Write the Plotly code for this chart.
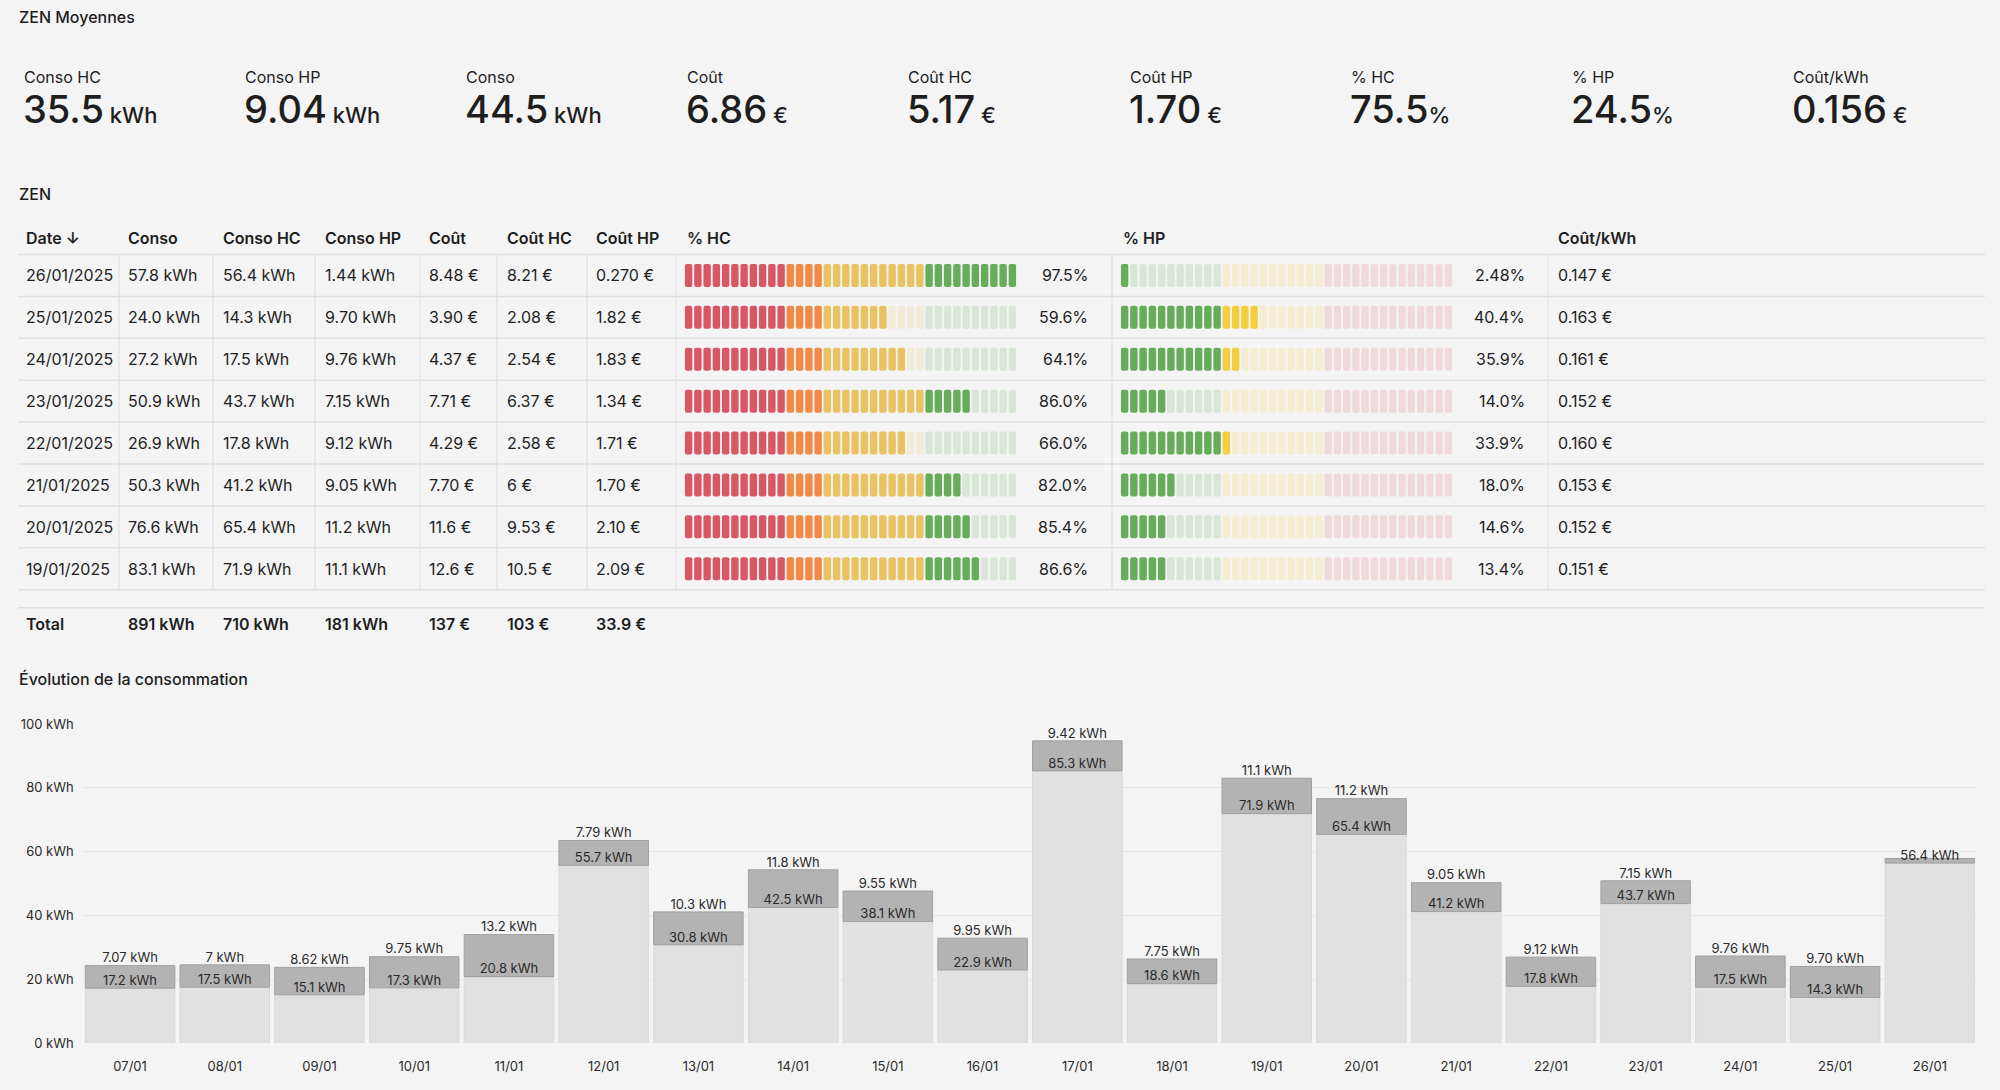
import math
import plotly.graph_objects as go

W, H = 2000, 1090
FONT = "Inter"
TXT = "#1e1e1e"
BG = "#f4f4f4"
LINE = "#e0e0e0"

# ---------------- data ----------------
card_labels = ["Conso HC", "Conso HP", "Conso", "Coût", "Coût HC", "Coût HP", "% HC", "% HP", "Coût/kWh"]
card_values = ["35.5", "9.04", "44.5", "6.86", "5.17", "1.70", "75.5", "24.5", "0.156"]
card_units = ["kWh", "kWh", "kWh", "€", "€", "€", "%", "%", "€"]

headers = ["Date ↓", "Conso", "Conso HC", "Conso HP", "Coût", "Coût HC", "Coût HP", "% HC", "% HP", "Coût/kWh"]
dates = ["26/01/2025", "25/01/2025", "24/01/2025", "23/01/2025", "22/01/2025", "21/01/2025", "20/01/2025", "19/01/2025"]
conso = ["57.8 kWh", "24.0 kWh", "27.2 kWh", "50.9 kWh", "26.9 kWh", "50.3 kWh", "76.6 kWh", "83.1 kWh"]
conso_hc = ["56.4 kWh", "14.3 kWh", "17.5 kWh", "43.7 kWh", "17.8 kWh", "41.2 kWh", "65.4 kWh", "71.9 kWh"]
conso_hp = ["1.44 kWh", "9.70 kWh", "9.76 kWh", "7.15 kWh", "9.12 kWh", "9.05 kWh", "11.2 kWh", "11.1 kWh"]
cout = ["8.48 €", "3.90 €", "4.37 €", "7.71 €", "4.29 €", "7.70 €", "11.6 €", "12.6 €"]
cout_hc = ["8.21 €", "2.08 €", "2.54 €", "6.37 €", "2.58 €", "6 €", "9.53 €", "10.5 €"]
cout_hp = ["0.270 €", "1.82 €", "1.83 €", "1.34 €", "1.71 €", "1.70 €", "2.10 €", "2.09 €"]
pct_hc = [97.5, 59.6, 64.1, 86.0, 66.0, 82.0, 85.4, 86.6]
pct_hp = [2.48, 40.4, 35.9, 14.0, 33.9, 18.0, 14.6, 13.4]
cout_kwh = ["0.147 €", "0.163 €", "0.161 €", "0.152 €", "0.160 €", "0.153 €", "0.152 €", "0.151 €"]
totals = ["Total", "891 kWh", "710 kWh", "181 kWh", "137 €", "103 €", "33.9 €"]

days = ["07/01", "08/01", "09/01", "10/01", "11/01", "12/01", "13/01", "14/01", "15/01", "16/01",
        "17/01", "18/01", "19/01", "20/01", "21/01", "22/01", "23/01", "24/01", "25/01", "26/01"]
hc_kwh = [17.2, 17.5, 15.1, 17.3, 20.8, 55.7, 30.8, 42.5, 38.1, 22.9,
          85.3, 18.6, 71.9, 65.4, 41.2, 17.8, 43.7, 17.5, 14.3, 56.4]
hp_kwh = [7.07, 7.0, 8.62, 9.75, 13.2, 7.79, 10.3, 11.8, 9.55, 9.95,
          9.42, 7.75, 11.1, 11.2, 9.05, 9.12, 7.15, 9.76, 9.70, 1.44]
hp_text = ["7.07", "7", "8.62", "9.75", "13.2", "7.79", "10.3", "11.8", "9.55", "9.95",
           "9.42", "7.75", "11.1", "11.2", "9.05", "9.12", "7.15", "9.76", "9.70", "1.44"]
y_ticks = [0, 20, 40, 60, 80, 100]

N_CELLS = 36


def px(x):
    return x / W


def py(y):
    return 1 - y / H


def fmt3(v):
    d = max(0, 2 - int(math.floor(math.log10(abs(v)))))
    return f"{v:.{d}f}"


fig = go.Figure()
ann = []
shapes = []


def text(x, y, s, size=16, weight=400, xanchor="left", color=TXT):
    ann.append(dict(x=px(x), y=py(y), xref="paper", yref="paper", text=s, showarrow=False,
                    xanchor=xanchor, yanchor="middle", align=xanchor,
                    font=dict(family=FONT, size=size, color=color, weight=weight)))


# ---------------- stat cards ----------------
text(17, 17, "ZEN Moyennes", size=16, weight=500)
card_x0, card_dx = 23, 221.1
for i, (lab, val, unit) in enumerate(zip(card_labels, card_values, card_units)):
    x = card_x0 + i * card_dx
    sep = "" if unit == "%" else " "
    text(x - 1, 77, lab, size=16)
    text(x - 2, 109, f"{val}<span style='font-size:22px'>{sep}{unit}</span>", size=38, weight=500)

# ---------------- table ----------------
text(17, 194, "ZEN", size=16, weight=500)
col_x = [24, 126, 221, 323, 427, 505, 594, 685, 1121, 1556]
seps = [119, 213, 315, 420, 497, 587, 676, 1112, 1548]
tbl_l, tbl_r = 18, 1985
head_y = 238
row_top = 254.5
row_h = 41.9
n_rows = len(dates)
for h, x in zip(headers, col_x):
    text(x, head_y, h, size=16, weight=600)

# horizontal lines
for k in range(n_rows + 1):
    yy = row_top + k * row_h
    shapes.append(dict(type="line", xref="paper", yref="paper", x0=px(tbl_l), x1=px(tbl_r),
                       y0=py(yy), y1=py(yy), line=dict(color=LINE, width=1.5)))
yy = row_top + n_rows * row_h + 18
shapes.append(dict(type="line", xref="paper", yref="paper", x0=px(tbl_l), x1=px(tbl_r),
                   y0=py(yy), y1=py(yy), line=dict(color=LINE, width=1.5)))
for sx in seps:
    shapes.append(dict(type="line", xref="paper", yref="paper", x0=px(sx), x1=px(sx),
                       y0=py(row_top), y1=py(row_top + n_rows * row_h), line=dict(color=LINE, width=1.2)))

for r in range(n_rows):
    yc = row_top + (r + 0.5) * row_h
    cells = [dates[r], conso[r], conso_hc[r], conso_hp[r], cout[r], cout_hc[r], cout_hp[r]]
    for c, s in enumerate(cells):
        text(col_x[c], yc, s, size=16)
    text(1090, yc, fmt3(pct_hc[r]) + "%", size=16, xanchor="right")
    text(1527, yc, fmt3(pct_hp[r]) + "%", size=16, xanchor="right")
    text(col_x[9], yc, cout_kwh[r], size=16)

tot_y = 624
for c, s in enumerate(totals):
    text(col_x[c], tot_y, s, size=16, weight=600)


# ---------------- LCD gauges ----------------
def hc_color(v):
    if v < 30:
        return (214, 78, 94)
    if v < 40:
        return (239, 132, 60)
    if v < 70:
        return (232, 192, 90)
    return (94, 168, 82)


def hp_color(v):
    if v < 30:
        return (94, 168, 82)
    if v < 60:
        return (242, 204, 54)
    return (224, 96, 108)


def lit_ceil(p):
    return math.ceil(p / 100 * N_CELLS)


def lit_round(p):
    return round(p / 100 * N_CELLS)


seg_h = 0.55
for pcts, cfun, xa, litf in [(pct_hc, hc_color, "x2", lit_ceil), (pct_hp, hp_color, "x3", lit_round)]:
    for r, p in enumerate(pcts):
        lit = litf(p)
        xs, cols = [], []
        for i in range(N_CELLS):
            rgb = cfun(i * 100 / N_CELLS)
            a = 0.95 if i < lit else 0.18
            xs.append(i)
            cols.append(f"rgba({rgb[0]},{rgb[1]},{rgb[2]},{a})")
        fig.add_trace(go.Bar(x=xs, y=[seg_h] * N_CELLS, base=[r + 0.5 - seg_h / 2] * N_CELLS,
                             xaxis=xa, yaxis="y2", width=0.8,
                             marker=dict(color=cols, line=dict(width=0), cornerradius=2),
                             showlegend=False, hoverinfo="skip"))

# ---------------- consumption chart ----------------
fig.add_trace(go.Bar(x=days, y=hc_kwh, name="HC", marker=dict(color="#e1e1e1", line=dict(color="#d9d9d9", width=1)),
                     showlegend=False, hoverinfo="skip"))
fig.add_trace(go.Bar(x=days, y=hp_kwh, base=hc_kwh, name="HP",
                     marker=dict(color="#b3b3b3", line=dict(color="#a0a0a0", width=1)),
                     showlegend=False, hoverinfo="skip"))
fig.add_trace(go.Scatter(x=days, y=hc_kwh, mode="text", text=[f"{fmt3(v)} kWh" for v in hc_kwh],
                         textposition="top center", textfont=dict(family=FONT, size=13, color="#2a2a2a"),
                         showlegend=False, hoverinfo="skip", cliponaxis=False))
tops = [a + b for a, b in zip(hc_kwh, hp_kwh)]
fig.add_trace(go.Scatter(x=days, y=tops, mode="text",
                         text=[f"{t} kWh" if v >= 3 else "" for t, v in zip(hp_text, hp_kwh)],
                         textposition="top center", textfont=dict(family=FONT, size=13, color="#2a2a2a"),
                         showlegend=False, hoverinfo="skip", cliponaxis=False))

text(17, 679, "Évolution de la consommation", size=16, weight=500)

fig.update_layout(
    width=W, height=H, margin=dict(l=0, r=0, t=0, b=0),
    paper_bgcolor=BG, plot_bgcolor="rgba(0,0,0,0)",
    barmode="overlay", bargap=0.055,
    font=dict(family=FONT, color=TXT),
    annotations=ann, shapes=shapes,
    xaxis=dict(domain=[px(82.7), px(1977.2)], type="category", range=[-0.5, len(days) - 0.5],
               showgrid=False, zeroline=False, automargin=False,
               showline=False, ticks="", tickfont=dict(family=FONT, size=13, color="#2a2a2a"),
               ticklabelstandoff=14, fixedrange=True),
    yaxis=dict(domain=[py(1043), py(724)], range=[0, 100], tickvals=y_ticks, automargin=False,
               ticktext=[f"{v} kWh" for v in y_ticks], showgrid=True, gridcolor="#e6e6e6",
               gridwidth=1, zeroline=False, showline=False, ticks="",
               tickfont=dict(family=FONT, size=13, color="#2a2a2a"), ticklabelstandoff=8),
    xaxis2=dict(domain=[px(684), px(1017)], range=[-0.5, N_CELLS - 0.5], visible=False, anchor="y2"),
    xaxis3=dict(domain=[px(1120), px(1453)], range=[-0.5, N_CELLS - 0.5], visible=False, anchor="y2"),
    yaxis2=dict(domain=[py(row_top + n_rows * row_h), py(row_top)], range=[n_rows, 0], visible=False,
                anchor="x2"),
)

fig.write_html("out.html", config={"displayModeBar": False},
               post_script="document.body.style.margin='0';document.body.style.overflow='hidden';")
